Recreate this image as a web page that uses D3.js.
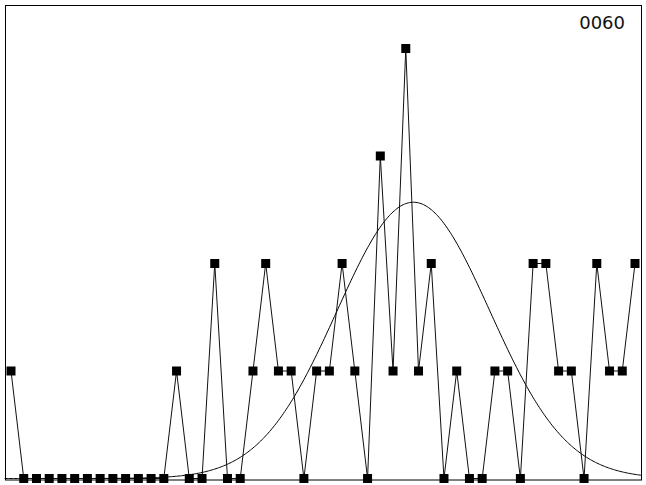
<!DOCTYPE html>
<html>
<head>
<meta charset="utf-8">
<script src="https://cdn.jsdelivr.net/npm/d3@7"></script>
<style>
  html, body { margin: 0; padding: 0; background: #fff; }
  svg { display: block; }
  .frame { fill: none; stroke: #000; stroke-width: 1; }
  .path-line { fill: none; stroke: #111; stroke-width: 1; }
  .curve { fill: none; stroke: #000; stroke-width: 1; }
  .point { fill: #000; }
  .label { font-family: 'DejaVu Sans', Verdana, sans-serif; font-size: 18px; fill: #111; }
</style>
</head>
<body>
<svg></svg>
<script>
'use strict';

// counts per slot, left to right
var COUNTS = [1, 0, 0, 0, 0, 0, 0, 0, 0, 0, 0, 0, 0, 1, 0, 0, 2, 0, 0, 1,
              2, 1, 1, 0, 1, 1, 2, 1, 0, 3, 1, 4, 1, 2, 0, 1, 0, 0, 1, 1,
              0, 2, 2, 1, 1, 0, 2, 1, 1, 2];
var LABEL = '0060';
// fitted normal curve: spread in slot units, peak height in counts
var CURVE_SD = 6.0;
var CURVE_PEAK = 2.57;

var svg = d3.select('svg');
var width = 646, height = 485;
var xScale, yScale;

(function init() {
  svg.attr('width', width).attr('height', height);
  xScale = d3.scaleLinear().domain([0, COUNTS.length - 1]).range([11, 635]);
  yScale = d3.scaleLinear().domain([0, 4]).range([478.5, 48.5]);
  renderGraph();
})();

function renderGraph() {
  svg.append('rect').attr('class', 'frame')
    .attr('x', 5.5).attr('y', 5.5).attr('width', 636).attr('height', 474.5);

  var total = d3.sum(COUNTS);
  var mean = d3.sum(COUNTS, function (d, i) { return d * i; }) / total;

  var line = d3.line().x(function (d, i) {
    return xScale(i);
  }).y(function (d) {
    return yScale(d);
  });

  var curveLine = d3.line().x(function (d) {
    return xScale(d);
  }).y(function (d) {
    var z = (d - mean) / CURVE_SD;
    return yScale(CURVE_PEAK * Math.exp(-z * z / 2));
  }).curve(d3.curveBasis);

  var steps = d3.range(-0.5, COUNTS.length - 0.5 + 0.001, 0.1);

  svg.append('path').attr('class', 'curve').attr('d', curveLine(steps));
  svg.append('path').attr('class', 'path-line').attr('d', line(COUNTS));

  svg.selectAll('.point').data(COUNTS).enter().append('rect')
    .attr('class', 'point')
    .attr('x', function (d, i) { return xScale(i) - 4.5; })
    .attr('y', function (d) { return yScale(d) - 4.5; })
    .attr('width', 9).attr('height', 9);

  svg.append('text').attr('class', 'label')
    .attr('x', 625).attr('y', 29).attr('text-anchor', 'end')
    .text(LABEL);
}
</script>
</body>
</html>
